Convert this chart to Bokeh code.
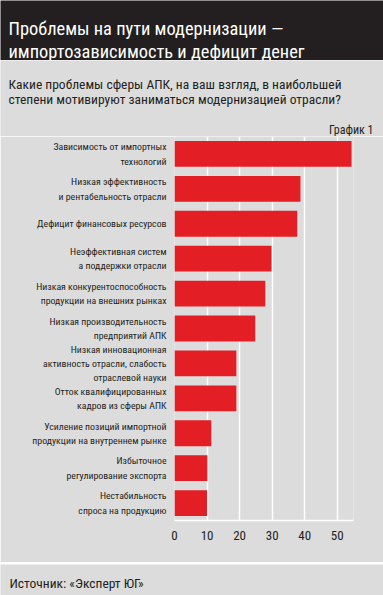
from bokeh.plotting import figure
from bokeh.layouts import column
from bokeh.models import Range1d, FactorRange, FixedTicker
from bokeh.core.properties import value
from bokeh.embed import file_html
from bokeh.resources import INLINE

# ---- data ----
title_lines = ["Проблемы на пути модернизации —", "импортозависимость и дефицит денег"]
subtitle_lines = ["Какие проблемы сферы АПК, на ваш взгляд, в наибольшей",
                  "степени мотивируют заниматься модернизацией отрасли?"]
chart_tag = "График 1"
source_text = "Источник: «Эксперт ЮГ»"

categories = [
    "Зависимость от импортных\nтехнологий",
    "Низкая эффективность\nи рентабельность отрасли",
    "Дефицит финансовых ресурсов",
    "Неэффективная систем\nа поддержки отрасли",
    "Низкая конкурентоспособность\nпродукции на внешних рынках",
    "Низкая производительность\nпредприятий АПК",
    "Низкая инновационная\nактивность отрасли, слабость\nотраслевой науки",
    "Отток квалифицированных\nкадров из сферы АПК",
    "Усиление позиций импортной\nпродукции на внутреннем рынке",
    "Избыточное\nрегулирование экспорта",
    "Нестабильность\nспроса на продукцию",
]
values = [54.4, 38.7, 37.7, 29.8, 27.9, 24.8, 19.0, 19.0, 11.3, 10.1, 10.0]
x_ticks = [0, 10, 20, 30, 40, 50]

# ---- style ----
FONT = "Roboto Condensed"
DARK = "#231f20"
GRAY = "#dcdcdd"
RED = "#e31e24"
TXT = "#231f20"
W = 383


def blank(h, bg):
    f = figure(width=W, height=h, x_range=Range1d(0, W), y_range=Range1d(h, 0),
               x_axis_type=None, y_axis_type=None, toolbar_location=None,
               output_backend="svg", min_border=0, background_fill_color=bg,
               border_fill_color=bg, outline_line_color=None, frame_align=False)
    f.grid.visible = False
    return f


# header (0-60)
hdr = blank(60, DARK)
hdr.text(x=[8, 8], y=[27.5, 50.5], text=title_lines, text_font=value(FONT),
         text_font_size="18.4px", text_color="white", text_baseline="alphabetic")

# subtitle (60-136)
sub = blank(76, GRAY)
sub.text(x=[8, 8], y=[23.3, 38.0], text=subtitle_lines, text_font=value(FONT),
         text_font_size="13.5px", text_color=TXT, text_baseline="alphabetic")
sub.text(x=[373], y=[69.5], text=[chart_tag], text_font=value(FONT),
         text_font_size="12px", text_color=TXT, text_baseline="alphabetic",
         text_align="right")

# main chart (136-562)
p = figure(width=W, height=426, x_range=Range1d(0, 55),
           y_range=FactorRange(factors=categories[::-1], range_padding=0),
           toolbar_location=None, output_backend="svg",
           min_border_left=174, min_border_right=30, min_border_top=0,
           min_border_bottom=42, background_fill_color=GRAY,
           border_fill_color=GRAY, outline_line_color=None, frame_align=False)
p.hbar(y=categories, right=values, left=0, height=0.74, fill_color=RED, line_color=None)

p.xaxis.ticker = FixedTicker(ticks=x_ticks)
p.xaxis.axis_line_color = "white"
p.xaxis.axis_line_width = 1.5
p.xaxis.major_tick_line_color = None
p.xaxis.minor_tick_line_color = None
p.xaxis.major_label_standoff = 4
p.xaxis.major_label_text_font = FONT
p.xaxis.major_label_text_font_size = "13px"
p.xaxis.major_label_text_color = TXT

p.yaxis.axis_line_color = None
p.yaxis.major_tick_line_color = None
p.yaxis.minor_tick_line_color = None
p.yaxis.major_label_standoff = 2
p.yaxis.major_label_text_font = FONT
p.yaxis.major_label_text_font_size = "9.8px"
p.yaxis.major_label_text_color = TXT
p.yaxis.major_label_text_line_height = 1.3

p.xgrid.ticker = FixedTicker(ticks=x_ticks)
p.xgrid.grid_line_color = "white"
p.xgrid.grid_line_width = 1.5
p.ygrid.grid_line_color = None

# separator (562-564)
sep = blank(2, "white")

# footer (564-595)
ftr = blank(31, GRAY)
ftr.text(x=[9], y=[18.7], text=[source_text], text_font=value(FONT),
         text_font_size="13.5px", text_color=TXT, text_baseline="alphabetic")

layout = column(hdr, sub, p, sep, ftr, spacing=0)
open("out.html", "w").write(file_html(layout, INLINE))
